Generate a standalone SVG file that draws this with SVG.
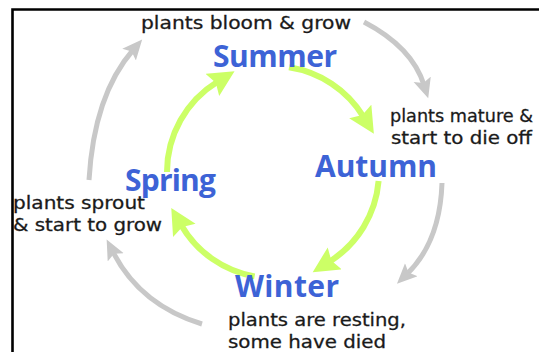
<svg xmlns="http://www.w3.org/2000/svg" width="539" height="352" viewBox="0 0 539 352">
<style>
.season{font-family:"Open Sans","DejaVu Sans",sans-serif;font-weight:bold;font-size:30px;fill:#3d63d6}
.note{font-family:"DejaVu Sans","Open Sans",sans-serif;font-size:18.5px;fill:#1a1a1a;stroke:#1a1a1a;stroke-width:0.3}
.green{fill:none;stroke:#ccff66;stroke-width:6}
.gray{fill:none;stroke:#c8c8c8;stroke-width:5}
</style>
<defs>
<marker id="gh" markerUnits="userSpaceOnUse" markerWidth="30" markerHeight="30" refX="6" refY="13" orient="auto">
<path d="M0,0 L26,13 L0,26 L4,13 z" fill="#ccff66"/>
</marker>
<marker id="ah" markerUnits="userSpaceOnUse" markerWidth="24" markerHeight="24" refX="6" refY="9" orient="auto">
<path d="M0,0 L20,9 L0,18 L4,9 z" fill="#c8c8c8"/>
</marker>
</defs>
<rect width="539" height="352" fill="#ffffff"/>
<path d="M12.5,352 V9.5 H539" fill="none" stroke="#000" stroke-width="2.6"/>
<g id="connectors">
<path class="green" d="M167,172 A106,106 0 0 1 217.5,81.7" marker-end="url(#gh)"/>
<path class="green" d="M289,67.3 A106,106 0 0 1 363.4,116.6" marker-end="url(#gh)"/>
<path class="green" d="M378.6,181.1 A106,106 0 0 1 329.6,261.6" marker-end="url(#gh)"/>
<path class="green" d="M254.6,276.4 A106,106 0 0 1 181.3,225.2" marker-end="url(#gh)"/>
<path class="gray" d="M89,180 Q94,95 133,50" marker-end="url(#ah)"/>
<path class="gray" d="M364,22 Q412,47 424,85" marker-end="url(#ah)"/>
<path class="gray" d="M442,183 Q440,242 407,274" marker-end="url(#ah)"/>
<path class="gray" d="M202,324 Q140,305 113,252" marker-end="url(#ah)"/>
</g>
<g id="summer">
<text class="season" x="213" y="67" textLength="124">Summer</text>
<text class="note" x="141" y="29" textLength="210" lengthAdjust="spacingAndGlyphs">plants bloom &amp; grow</text>
</g>
<g id="autumn">
<text class="season" x="315" y="177" textLength="122">Autumn</text>
<text class="note" x="390" y="122" style="font-size:18px" textLength="143" lengthAdjust="spacingAndGlyphs">plants mature &amp;</text>
<text class="note" x="391" y="144" textLength="141" lengthAdjust="spacingAndGlyphs">start to die off</text>
</g>
<g id="winter">
<text class="season" x="235" y="297" textLength="104">Winter</text>
<text class="note" x="228" y="326" textLength="178" lengthAdjust="spacingAndGlyphs">plants are resting,</text>
<text class="note" x="228" y="348" textLength="158" lengthAdjust="spacingAndGlyphs">some have died</text>
</g>
<g id="spring">
<text class="season" x="125" y="191" textLength="91">Spring</text>
<text class="note" x="13" y="209" textLength="132" lengthAdjust="spacingAndGlyphs">plants sprout</text>
<text class="note" x="13" y="231" textLength="149" lengthAdjust="spacingAndGlyphs">&amp; start to grow</text>
</g>
</svg>
